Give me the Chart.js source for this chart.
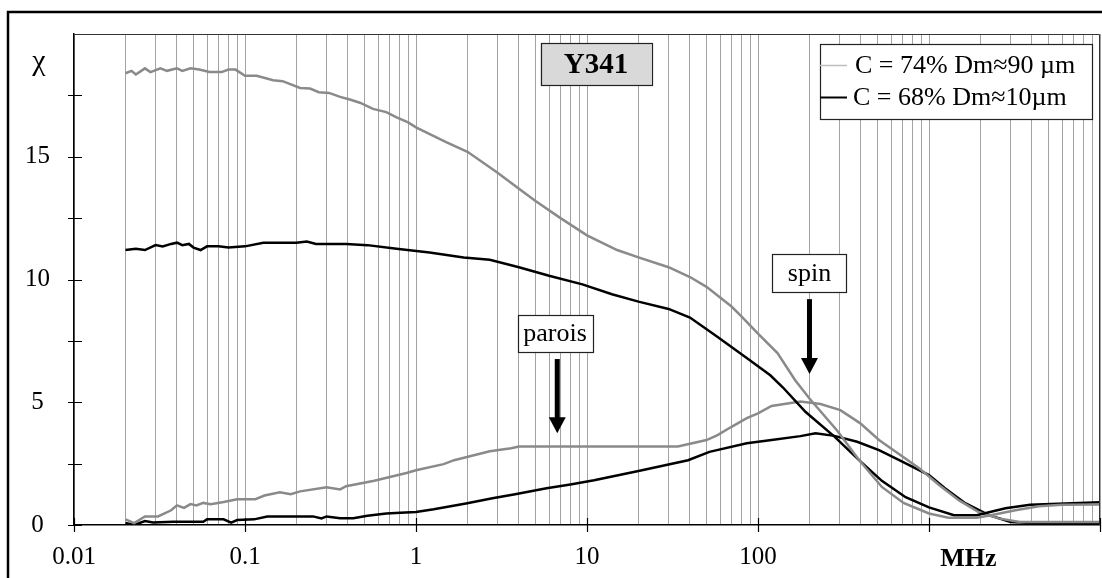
<!DOCTYPE html>
<html>
<head>
<meta charset="utf-8">
<script src="https://cdn.jsdelivr.net/npm/chart.js@4.4.1/dist/chart.umd.min.js"></script>
<style>
  html, body { margin: 0; padding: 0; background: #fff; }
  canvas { display: block; }
</style>
</head>
<body>
<canvas id="graphe" width="1102" height="578"></canvas>
<script>
/* Spectre de susceptibilité χ(f) — échantillon Y341 */

// fréquences (MHz) et valeurs
const f74Re = [0.02,0.0217,0.023,0.026,0.028,0.032,0.035,0.04,0.043,0.048,0.054,0.062,0.073,0.08,0.088,0.1,0.117,0.146,0.166,0.21,0.24,0.27,0.31,0.36,0.41,0.47,0.56,0.67,0.77,0.9,1,1.5,2,3,4,5,7,10,15,20,30,40,50,70,80,100,130,165,200,290,390,530,710,1000,1300,1900,2300,3200,4400,6000,10000];
const chi74Re = [18.4,18.5,18.35,18.6,18.45,18.6,18.5,18.6,18.5,18.6,18.55,18.45,18.45,18.55,18.55,18.3,18.3,18.12,18.08,17.8,17.78,17.63,17.6,17.44,17.33,17.2,16.95,16.82,16.6,16.4,16.2,15.6,15.2,14.35,13.7,13.2,12.5,11.8,11.2,10.9,10.5,10.1,9.7,8.9,8.5,7.8,7.0,5.9,5.15,3.85,2.65,1.55,0.9,0.47,0.3,0.3,0.4,0.6,0.76,0.82,0.84];

const f68Re = [0.02,0.023,0.026,0.03,0.033,0.037,0.04,0.043,0.047,0.05,0.055,0.06,0.07,0.08,0.1,0.128,0.2,0.23,0.26,0.39,0.52,0.77,1.2,1.9,2.7,4,6,9.4,14,20,30,40,57,90,118,140,190,280,390,530,730,1000,1400,1900,2800,3900,10000];
const chi68Re = [11.2,11.25,11.2,11.4,11.35,11.45,11.5,11.4,11.45,11.3,11.2,11.35,11.35,11.3,11.35,11.5,11.5,11.55,11.45,11.45,11.4,11.25,11.1,10.9,10.8,10.5,10.15,9.8,9.4,9.1,8.8,8.45,7.7,6.7,6.1,5.6,4.6,3.6,2.64,1.8,1.13,0.72,0.4,0.4,0.68,0.82,0.93];

const f74Im = [0.02,0.0225,0.026,0.031,0.037,0.04,0.044,0.048,0.052,0.057,0.063,0.075,0.09,0.115,0.13,0.16,0.185,0.21,0.3,0.36,0.39,0.57,0.88,1,1.45,1.67,2.7,3.6,4,34,50,58,70,86,100,120,177,232,303,395,510,680,880,1150,1500,1950,2550,3400,10000];
const chi74Im = [0.23,0.08,0.35,0.35,0.6,0.8,0.7,0.85,0.8,0.9,0.85,0.94,1.05,1.05,1.2,1.33,1.25,1.37,1.54,1.45,1.58,1.8,2.12,2.23,2.48,2.64,3.0,3.13,3.2,3.2,3.46,3.66,4.0,4.35,4.55,4.85,5.03,4.93,4.68,4.15,3.46,2.85,2.3,1.62,1.0,0.53,0.27,0.12,0.12];

const f68Im = [0.02,0.0225,0.026,0.029,0.038,0.057,0.06,0.075,0.083,0.09,0.113,0.135,0.25,0.28,0.3,0.36,0.43,0.52,0.67,0.81,1,1.27,1.96,2.8,3.8,5.8,8,11,20,39,52,86,120,177,217,280,380,510,670,1000,1240,1630,2240,3000,5600,10000];
const chi68Im = [0.08,0.0,0.16,0.1,0.13,0.13,0.23,0.23,0.1,0.2,0.23,0.35,0.35,0.27,0.35,0.28,0.28,0.38,0.47,0.5,0.53,0.64,0.88,1.09,1.25,1.5,1.65,1.82,2.2,2.64,2.98,3.33,3.46,3.62,3.74,3.63,3.39,3.05,2.64,2.03,1.5,0.89,0.4,0.12,0.03,0.03];

const legendes = ['C = 74% Dm≈90 µm', 'C = 68% Dm≈10µm'];
const xTickLabels = {0.01: '0.01', 0.1: '0.1', 1: '1', 10: '10', 100: '100'};
const yTickLabels = [0, 5, 10, 15];

const gris = '#8a8a8a';
const noir = '#000000';
const police = '"Liberation Serif", "Times New Roman", serif';

const pts = (xs, ys) => xs.map((x, i) => ({ x: x, y: ys[i] }));

// toutes les lignes de grille : 1..9 x 10^k
const xGrille = [];
for (let k = -2; k <= 3; k++) {
  for (let m = 1; m <= 9; m++) xGrille.push(Number((m * Math.pow(10, k)).toPrecision(3)));
}
xGrille.push(10000);
const estDecade = v => Math.abs(Math.log10(v) - Math.round(Math.log10(v))) < 1e-6;

// annotations (en coordonnées du graphe)
const etiquettes = [
  { texte: 'Y341', x: 11.3, y: 18.76, w: 111, h: 42, fond: '#d9d9d9', gras: true, taille: 29 },
  { texte: 'parois', x: 6.5, y: 7.8, w: 75, h: 37, fond: '#ffffff', gras: false, taille: 26 },
  { texte: 'spin', x: 200, y: 10.27, w: 74, h: 38, fond: '#ffffff', gras: false, taille: 26 }
];
const fleches = [
  { x: 6.7, haut: 6.76, bas: 3.74 },
  { x: 200, haut: 9.2, bas: 6.15 }
];

const decor = {
  id: 'decor',
  beforeDraw(chart) {
    const ctx = chart.ctx;
    ctx.save();
    ctx.strokeStyle = '#000';
    ctx.lineWidth = 2.5;
    ctx.strokeRect(8, 12, 1110, 620);
    ctx.restore();
  },
  afterDraw(chart) {
    const ctx = chart.ctx;
    const a = chart.chartArea;
    const sx = chart.scales.x, sy = chart.scales.y;
    ctx.save();

    // cadre de la zone de tracé
    ctx.strokeStyle = '#333';
    ctx.lineWidth = 1;
    ctx.beginPath();
    ctx.moveTo(a.left, a.top + 0.5); ctx.lineTo(a.right - 0.5, a.top + 0.5); ctx.lineTo(a.right - 0.5, a.bottom);
    ctx.stroke();

    // graduations qui traversent les axes
    ctx.strokeStyle = '#000';
    ctx.lineWidth = 1.2;
    ctx.beginPath();
    xGrille.filter(estDecade).forEach(v => {
      const px = Math.round(sx.getPixelForValue(v)) + 0.5;
      ctx.moveTo(px, a.bottom - 7); ctx.lineTo(px, a.bottom + 7);
    });
    for (let v = 0; v < 20; v += 2.5) {
      const py = Math.round(sy.getPixelForValue(v)) + 0.5;
      ctx.moveTo(a.left - 6, py); ctx.lineTo(a.left + 8, py);
    }
    ctx.stroke();

    // étiquettes encadrées
    ctx.textAlign = 'center';
    ctx.textBaseline = 'middle';
    etiquettes.forEach(e => {
      const cx = sx.getPixelForValue(e.x), cy = sy.getPixelForValue(e.y);
      ctx.fillStyle = e.fond;
      ctx.fillRect(cx - e.w / 2, cy - e.h / 2, e.w, e.h);
      ctx.strokeStyle = '#222';
      ctx.lineWidth = 1.2;
      ctx.strokeRect(Math.round(cx - e.w / 2) + 0.5, Math.round(cy - e.h / 2) + 0.5, e.w, e.h);
      ctx.fillStyle = '#000';
      ctx.font = (e.gras ? 'bold ' : '') + e.taille + 'px ' + police;
      ctx.fillText(e.texte, cx, cy + 1);
    });

    // flèches
    ctx.fillStyle = '#000';
    fleches.forEach(f => {
      const px = sx.getPixelForValue(f.x);
      const y0 = sy.getPixelForValue(f.haut), y1 = sy.getPixelForValue(f.bas);
      ctx.fillRect(px - 2.5, y0, 5, y1 - y0 - 15);
      ctx.beginPath();
      ctx.moveTo(px - 8.5, y1 - 16); ctx.lineTo(px + 8.5, y1 - 16); ctx.lineTo(px, y1);
      ctx.closePath();
      ctx.fill();
    });

    // légende
    const lx = 820, ly = 44, lw = 272, lh = 75;
    ctx.fillStyle = '#fff';
    ctx.fillRect(lx, ly, lw, lh);
    ctx.strokeStyle = '#222';
    ctx.lineWidth = 1.2;
    ctx.strokeRect(lx + 0.5, ly + 0.5, lw, lh);
    const couleursLeg = ['#bdbdbd', noir];
    ctx.textAlign = 'left';
    ctx.font = '26px ' + police;
    legendes.forEach((t, i) => {
      const y = ly + 21 + i * 32;
      ctx.strokeStyle = couleursLeg[i];
      ctx.lineWidth = i === 0 ? 1.5 : 2;
      ctx.beginPath();
      ctx.moveTo(lx, y + 0.5); ctx.lineTo(lx + 27, y + 0.5);
      ctx.stroke();
      ctx.fillStyle = '#000';
      ctx.fillText(t, lx + 35 - i * 2, y + 1);
    });

    // titres des axes
    ctx.font = '30px ' + police;
    ctx.textAlign = 'center';
    ctx.fillText('χ', 39, 62);
    ctx.font = 'bold 26px ' + police;
    ctx.fillText('MHz', sx.getPixelForValue(1700), 559);

    ctx.restore();
  }
};

new Chart(document.getElementById('graphe'), {
  type: 'line',
  data: {
    datasets: [
      { label: legendes[0], data: pts(f74Re, chi74Re), borderColor: gris },
      { label: legendes[1], data: pts(f68Re, chi68Re), borderColor: noir },
      { label: legendes[0] + ' (χ\'\')', data: pts(f74Im, chi74Im), borderColor: gris },
      { label: legendes[1] + ' (χ\'\')', data: pts(f68Im, chi68Im), borderColor: noir }
    ]
  },
  options: {
    responsive: false,
    animation: false,
    devicePixelRatio: 1,
    layout: { padding: { left: 0, top: 34, right: 2, bottom: 0 } },
    elements: {
      line: { borderWidth: 2.5, tension: 0, fill: false },
      point: { radius: 0 }
    },
    plugins: {
      legend: { display: false },
      tooltip: { enabled: false },
      title: { display: false }
    },
    scales: {
      x: {
        type: 'logarithmic',
        min: 0.01,
        max: 10000,
        afterBuildTicks: s => { s.ticks = xGrille.map(v => ({ value: v })); },
        afterFit: s => { s.height = 53; s.paddingLeft = 0; s.paddingRight = 0; },
        grid: { color: '#a3a3a3', lineWidth: 1, drawTicks: false },
        border: { color: '#000', width: 1.5 },
        ticks: {
          autoSkip: false,
          maxRotation: 0,
          padding: 17,
          color: '#000',
          font: { family: police, size: 25 },
          callback: v => xTickLabels[v] || ''
        }
      },
      y: {
        min: 0,
        max: 20,
        afterFit: s => { s.width = 74; s.paddingTop = 0; s.paddingBottom = 0; },
        grid: { display: false, drawTicks: false },
        border: { color: '#000', width: 1.5 },
        ticks: {
          stepSize: 2.5,
          padding: 24,
          crossAlign: 'center',
          color: '#000',
          font: { family: police, size: 25 },
          callback: v => yTickLabels.includes(v) ? String(v) : ''
        }
      }
    }
  },
  plugins: [decor]
});
</script>
</body>
</html>
